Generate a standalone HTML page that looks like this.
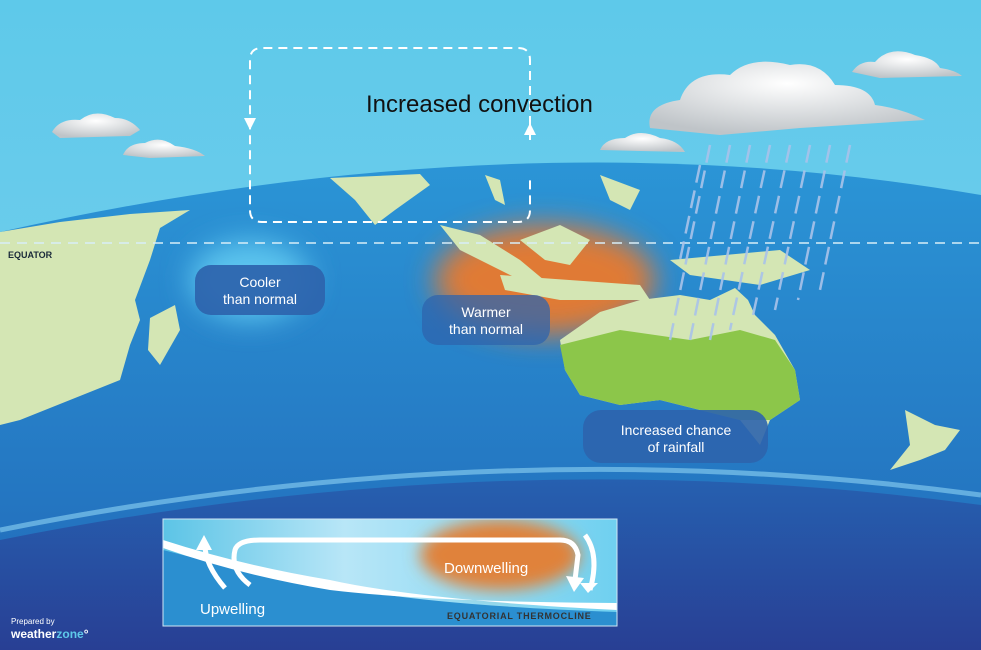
<!DOCTYPE html>
<html><head><meta charset="utf-8"><style>
html,body{margin:0;padding:0;width:981px;height:650px;overflow:hidden;background:#2a8fd0}
svg{display:block;font-family:"Liberation Sans",Arial,sans-serif}
</style></head><body>
<svg width="981" height="650" viewBox="0 0 981 650" xmlns="http://www.w3.org/2000/svg">
<defs>
<linearGradient id="sky" x1="0" y1="0" x2="0" y2="1">
<stop offset="0" stop-color="#5ec9ea"/><stop offset="0.55" stop-color="#6fcdec"/><stop offset="0.8" stop-color="#a9ddf2"/><stop offset="1" stop-color="#d6eef7"/></linearGradient>
<linearGradient id="sea" x1="0" y1="0" x2="0" y2="1">
<stop offset="0" stop-color="#2b95d6"/><stop offset="1" stop-color="#2168b8"/></linearGradient>
<linearGradient id="deep" x1="0" y1="0" x2="0" y2="1">
<stop offset="0" stop-color="#2660b0"/><stop offset="1" stop-color="#283f94"/></linearGradient>
<linearGradient id="ins" x1="0" y1="0" x2="1" y2="0">
<stop offset="0" stop-color="#5cc4e6"/><stop offset="0.4" stop-color="#b8e6f7"/><stop offset="1" stop-color="#6fd0f0"/></linearGradient>
<filter id="bl" x="-50%" y="-50%" width="200%" height="200%"><feGaussianBlur stdDeviation="14"/></filter>
<filter id="bl2" x="-50%" y="-50%" width="200%" height="200%"><feGaussianBlur stdDeviation="8"/></filter>
<radialGradient id="cl" cx="0.5" cy="0.3" r="0.7"><stop offset="0" stop-color="#fff"/><stop offset="1" stop-color="#bfc4c8"/></radialGradient>
<clipPath id="insclip"><rect x="163" y="519" width="454" height="107"/></clipPath>
</defs>
<rect width="981" height="650" fill="url(#sky)"/>
<path d="M0,232 Q520,115 981,195 L981,650 L0,650Z" fill="url(#sea)"/>
<path d="M0,540 Q500,440 981,505 L981,650 L0,650Z" fill="url(#deep)"/>
<path d="M0,530 Q500,430 981,495" stroke="#7fc6ec" stroke-width="5" fill="none" opacity="0.7"/>
<ellipse cx="545" cy="280" rx="110" ry="55" fill="#e07a35" filter="url(#bl)"/>
<ellipse cx="250" cy="280" rx="60" ry="40" fill="#5cc4ee" filter="url(#bl)"/>
<g fill="#d4e6b4">
<path d="M0,232 L60,222 L130,214 L190,210 L160,228 L150,260 L135,300 L140,320 L130,345 L120,380 L70,400 L20,420 L0,425Z"/>
<path d="M150,318 L175,305 L180,330 L160,365 L148,350Z"/>
<path d="M330,178 L420,174 L430,185 L395,210 L375,225 L355,200Z"/>
<path d="M485,175 L500,180 L505,205 L495,200Z"/>
<path d="M440,225 L480,235 L520,260 L550,285 L540,290 L500,270 L460,250Z"/>
<path d="M500,275 L640,285 L650,300 L560,300 L505,290Z"/>
<path d="M520,240 L560,225 L590,240 L570,265 L545,260Z"/>
<path d="M600,175 L640,190 L630,210 L610,200Z"/>
<path d="M670,260 L780,250 L810,270 L760,285 L690,275Z"/>
<path d="M560,340 L600,312 L640,300 L680,295 L710,300 L735,288 L748,300 L755,315 L775,335 L795,370 L800,400 L770,420 L760,445 L740,420 L700,410 L660,400 L620,405 L580,395 L565,370Z"/>
<path d="M905,410 L935,425 L960,430 L945,450 L920,460 L890,470 L910,445Z"/>
</g>
<path d="M560,345 L620,330 L690,340 L740,330 L775,340 L795,370 L800,400 L770,420 L740,420 L700,410 L660,400 L620,405 L580,395 L565,370Z" fill="#8cc64a"/>
<line x1="0" y1="243" x2="981" y2="243" stroke="#d8eef8" stroke-width="1.5" stroke-dasharray="10,7"/>
<text x="8" y="258" font-size="9" font-weight="bold" fill="#1a2a3a">EQUATOR</text>
<g stroke="#a9c3ea" stroke-width="2.5" stroke-dasharray="18,8" opacity="0.9">
<line x1="710" y1="145" x2="670" y2="340"/><line x1="730" y1="145" x2="690" y2="340"/>
<line x1="750" y1="145" x2="710" y2="340"/><line x1="770" y1="145" x2="730" y2="330"/>
<line x1="790" y1="145" x2="752" y2="320"/><line x1="810" y1="145" x2="775" y2="310"/>
<line x1="830" y1="145" x2="798" y2="300"/><line x1="850" y1="145" x2="820" y2="290"/>
<line x1="700" y1="165" x2="680" y2="260"/>
</g>
<g fill="url(#cl)">
<path d="M650,128 Q645,105 680,100 Q690,70 730,75 Q750,55 790,65 Q820,60 835,85 Q870,85 875,105 Q900,108 925,120 L800,128 L720,135Z"/>
<path d="M600,150 Q605,138 625,138 Q640,128 660,138 Q678,140 685,152Z"/>
<path d="M52,132 Q60,118 80,120 Q95,108 115,118 Q130,118 140,130 L130,136 L60,138Z"/>
<path d="M123,155 Q128,143 145,143 Q160,135 175,146 Q195,148 205,156 L150,158Z"/>
<path d="M852,72 Q860,60 875,62 Q890,45 915,55 Q935,58 940,68 Q955,70 962,76 L880,78Z"/>
</g>
<path d="M530,140 L530,60 Q530,48 518,48 L262,48 Q250,48 250,60 L250,210 Q250,222 262,222 L518,222 Q530,222 530,210 L530,175" stroke="#fff" stroke-width="2" fill="none" stroke-dasharray="9,6"/>
<path d="M244,118 L250,130 L256,118Z" fill="#fff"/>
<path d="M524,135 L530,123 L536,135Z" fill="#fff"/>
<text x="366" y="112" font-size="24" fill="#111">Increased convection</text>
<rect x="195" y="265" width="130" height="50" rx="16" fill="#2d64ad" opacity="0.93"/>
<text x="260" y="287" font-size="14" fill="#fff" text-anchor="middle">Cooler</text>
<text x="260" y="304" font-size="14" fill="#fff" text-anchor="middle">than normal</text>
<rect x="422" y="295" width="128" height="50" rx="16" fill="#2d64ad" opacity="0.75"/>
<text x="486" y="317" font-size="14" fill="#fff" text-anchor="middle">Warmer</text>
<text x="486" y="334" font-size="14" fill="#fff" text-anchor="middle">than normal</text>
<rect x="583" y="410" width="185" height="53" rx="18" fill="#2d64ad" opacity="0.9"/>
<text x="676" y="435" font-size="14" fill="#fff" text-anchor="middle">Increased chance</text>
<text x="676" y="452" font-size="14" fill="#fff" text-anchor="middle">of rainfall</text>
<g clip-path="url(#insclip)">
<rect x="163" y="519" width="454" height="107" fill="url(#ins)"/>
<ellipse cx="500" cy="555" rx="80" ry="35" fill="#e0823a" filter="url(#bl2)"/>
<path d="M163,550 Q240,570 330,585 Q420,605 617,612 L617,626 L163,626Z" fill="#2b8fd0"/>
<path d="M163,540 Q240,565 330,580 Q420,600 617,610 L617,603 Q430,602 330,590 Q240,575 163,548Z" fill="#fff"/>
</g>
<rect x="163" y="519" width="454" height="107" fill="none" stroke="#cfe6f4" stroke-width="1"/>
<g stroke="#fff" stroke-width="5" fill="none">
<path d="M225,588 Q205,565 205,545"/>
<path d="M250,585 Q230,570 235,550 Q238,540 260,540 L560,540 Q575,540 578,555 L575,580"/>
<path d="M585,535 Q600,555 590,590"/>
</g>
<path d="M196,550 L204,535 L212,550Z" fill="#fff"/>
<path d="M566,576 L574,592 L584,578Z" fill="#fff"/>
<path d="M580,583 L588,593 L598,583Z" fill="#fff"/>
<text x="444" y="573" font-size="15" fill="#fff">Downwelling</text>
<text x="200" y="614" font-size="15" fill="#fff">Upwelling</text>
<text x="447" y="619" font-size="9" font-weight="bold" fill="#333" letter-spacing="0.8">EQUATORIAL THERMOCLINE</text>
<text x="11" y="624" font-size="8" fill="#fff">Prepared by</text>
<text x="11" y="638" font-size="12" font-weight="bold" fill="#fff">weather<tspan fill="#5ec9ea">zone</tspan>°</text>
</svg>
</body></html>
